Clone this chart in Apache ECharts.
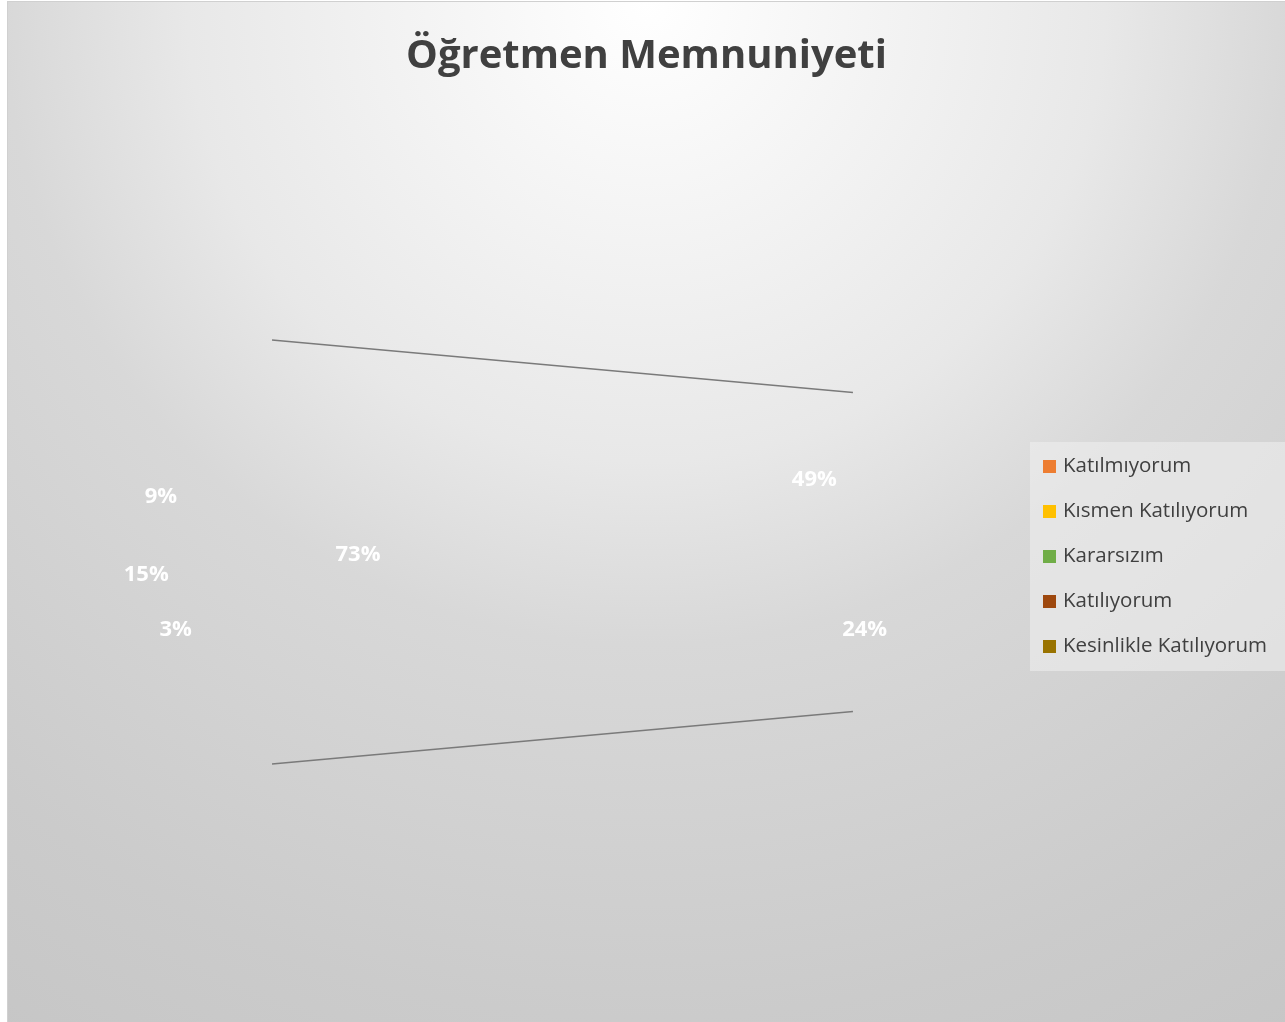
<!DOCTYPE html>
<html>
<head>
<meta charset="utf-8">
<script src="https://cdn.jsdelivr.net/npm/echarts@6/dist/echarts.min.js"></script>
<style>
  html, body { margin: 0; padding: 0; background: #ffffff; overflow: hidden; }
  #chart { position: absolute; left: 7px; top: 1px; width: 1277px; height: 1020px; border: 1px solid #d0d0d0; }
</style>
</head>
<body>
<div id="chart"></div>
<script>
// ---- data ----
const titleText = 'Öğretmen Memnuniyeti';
const categories = ['Katılmıyorum', 'Kısmen Katılıyorum', 'Kararsızım', 'Katılıyorum', 'Kesinlikle Katılıyorum'];
const values = [9, 15, 3, 49, 24];          // percent
const legendColors = ['#ED7D31', '#FFC000', '#70AD47', '#9E480E', '#997300'];
const primaryCount = 3;                      // first three in the main pie, rest in the secondary pie
const otherName = 'Diğer';

// ---- layout constants (container pixels) ----
const W = 1277, H = 1020;
const P = { cx: 264, cy: 550, labelR: 250, lineR: 212 };
const S = { cx: 831, cy: 550, r: 160, connAngle: 85 };
// small label nudges (style only), index-aligned with the pie slices
const primaryLabelNudge = [[-3, 13], [0, -1], [-3, -10]];
const otherLabelNudge = [-42, 3];
const secondaryLabelNudge = [[1, 7], [0, -1]];

const primaryVals = values.slice(0, primaryCount);
const secondaryVals = values.slice(primaryCount);
const otherVal = secondaryVals.reduce((a, b) => a + b, 0);
const smallSum = primaryVals.reduce((a, b) => a + b, 0);
const total = smallSum + otherVal;

// primary pie: small slices centred on the left, Other slice centred at 0deg
const smallDeg = smallSum / total * 360;
const S0 = 180 - smallDeg / 2;

// secondary pie start angle: first slice mid at 108deg
const secFirstDeg = secondaryVals[0] / otherVal * 360;
const secStart = 108 - secFirstDeg / 2;

const transparent = 'rgba(0,0,0,0)';
const labelStyle = {
  show: true, position: 'inside', formatter: '{c}%',
  color: '#ffffff', fontFamily: 'Open Sans', fontWeight: 'bold', fontSize: 22
};

const primaryData = primaryVals.map((v, i) => ({ name: categories[i], value: v, label: { offset: primaryLabelNudge[i] } }));
primaryData.push({ name: otherName, value: otherVal, label: { offset: otherLabelNudge } });
const secondaryData = secondaryVals.map((v, i) => ({ name: categories[primaryCount + i], value: v, label: { offset: secondaryLabelNudge[i] } }));

// connector lines
const rad = S.connAngle * Math.PI / 180;
const conn1 = [[P.cx, P.cy - P.lineR], [S.cx + S.r * Math.cos(rad), S.cy - S.r * Math.sin(rad)]];
const conn2 = [[P.cx, P.cy + P.lineR], [S.cx + S.r * Math.cos(rad), S.cy + S.r * Math.sin(rad)]];

const chart = echarts.init(document.getElementById('chart'), null, { renderer: 'canvas', width: W, height: H });

chart.setOption({
  animation: false,
  backgroundColor: {
    type: 'radial', x: 0.5, y: 0, r: 1.2,
    colorStops: [
      { offset: 0, color: '#ffffff' },
      { offset: 0.375, color: '#e8e8e8' },
      { offset: 0.525, color: '#d8d8d8' },
      { offset: 0.83, color: '#cbcbcb' },
      { offset: 1, color: '#c6c6c6' }
    ]
  },
  title: {
    text: titleText, left: 'center', top: 30,
    textStyle: { fontFamily: 'Open Sans', fontWeight: 'bold', fontSize: 40, color: '#404040' }
  },
  legend: {
    orient: 'vertical', left: 1022, top: 440,
    padding: [14, 30, 14, 13],
    backgroundColor: 'rgba(240,240,240,0.55)',
    itemWidth: 13, itemHeight: 13, itemGap: 24, icon: 'rect',
    textStyle: { fontFamily: 'Open Sans', fontSize: 20.5, color: '#404040', lineHeight: 21, padding: [0, 0, 0, 2] },
    data: categories.map((c, i) => ({ name: c, itemStyle: { color: legendColors[i], borderWidth: 0 } })),
    selectedMode: false
  },
  grid: { left: 0, top: 0, right: 0, bottom: 0, containLabel: false },
  xAxis: { type: 'value', min: 0, max: W, show: false },
  yAxis: { type: 'value', min: 0, max: H, inverse: true, show: false },
  series: [
    {
      type: 'pie', name: 'main', center: [P.cx, P.cy], radius: [0, P.labelR],
      startAngle: S0, clockwise: false, silent: true,
      itemStyle: { color: transparent, borderWidth: 0 },
      label: labelStyle, labelLine: { show: false },
      data: primaryData
    },
    {
      type: 'pie', name: 'secondary', center: [S.cx, S.cy], radius: [0, S.r],
      startAngle: secStart, clockwise: false, silent: true,
      itemStyle: { color: transparent, borderWidth: 0 },
      label: labelStyle, labelLine: { show: false },
      data: secondaryData
    },
    {
      type: 'line', data: conn1, symbol: 'none', silent: true,
      lineStyle: { color: '#7a7a7a', width: 1.5 }
    },
    {
      type: 'line', data: conn2, symbol: 'none', silent: true,
      lineStyle: { color: '#7a7a7a', width: 1.5 }
    }
  ]
});
</script>
</body>
</html>
